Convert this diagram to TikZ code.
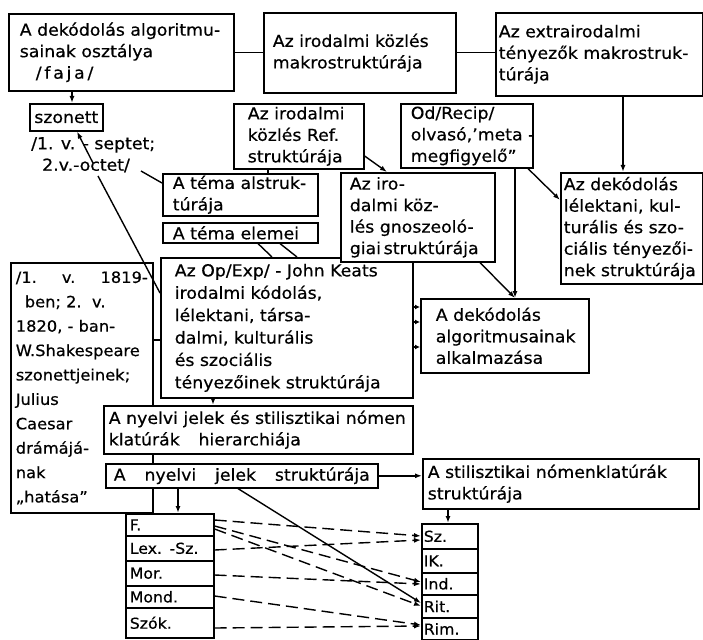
\documentclass[tikz,border=0pt]{standalone}
\usepackage{fontspec}
\setmainfont{DejaVu Sans}[FakeStretch=1.05, FakeBold=0.5]
\usetikzlibrary{arrows.meta}
\newcommand\fmain{\fontsize{16.5}{21.5}\selectfont\hyphenpenalty=10000\exhyphenpenalty=10000}
\newcommand\fop{\fontsize{16.5}{22.4}\selectfont\hyphenpenalty=10000\exhyphenpenalty=10000}
\newcommand\fleft{\fontsize{15.5}{24.4}\selectfont\hyphenpenalty=10000\exhyphenpenalty=10000}
\newcommand\fsmall{\fontsize{15}{18}\selectfont}
\tikzset{
  bx/.style={draw, line width=1.6pt, fill=white, anchor=north west, align=left, inner ysep=0pt, font=\fmain},
  ln/.style={line width=1.4pt},
  arr/.style={line width=1.4pt, -{Latex[length=7pt,width=5pt]}},
  sarr/.style={line width=1.4pt, -{Latex[length=5pt,width=5pt]}},
  dsh/.style={arr, dash pattern=on 12pt off 6pt},
}
\begin{document}
\begin{tikzpicture}[x=1pt,y=-1pt]
\useasboundingbox (0,0) rectangle (703,639);

% big left box
\node[bx, font=\fleft, inner xsep=5pt, text width=132pt, minimum height=250pt] (left) at (10,262)
  {/1.\hfill v.\hfill 1819-\\\hspace*{9pt}ben;\ 2.\ \ v.\\1820, - ban-\\\mbox{W.Shakespeare}\\szonettjeinek;\\Julius\\Caesar\\drámájá-\\nak\\„hatása”};

% top row
\node[bx, inner xsep=11pt, text width=203pt, minimum height=77pt] (b1) at (8,13)
  {A dekódolás algoritmu-\\sainak osztálya\\\hspace*{16pt}/\,f\,a\,j\,a\,/};
\node[bx, inner xsep=9pt, text width=174pt, minimum height=80pt] (b2) at (263,12)
  {Az irodalmi közlés\\makrostruktúrája};
\node[bx, inner xsep=3pt, text width=201pt, minimum height=83pt] (b3) at (495,12)
  {Az extrairodalmi\\\mbox{tényezők makrostruk-}\\túrája};

% second row
\node[bx, align=center, inner xsep=0pt, text width=73pt, minimum height=27pt] (szon) at (29,103) {szonett};
\node[anchor=north west, inner sep=0pt, align=left, font=\fmain] (sztxt) at (31,137)
  {/1. v. - septet;\\\hspace*{11pt}2.v.-octet/};
\node[bx, inner xsep=14pt, text width=102pt, minimum height=65pt] (ref) at (233,103)
  {Az irodalmi\\közlés Ref.\\struktúrája};
\node[bx, inner xsep=10pt, text width=112pt, minimum height=64pt] (od) at (400,103)
  {Od/Recip/\\\mbox{olvasó,’meta -}\\megfigyelő”};

\node[bx, inner xsep=10pt, text width=135pt, minimum height=42pt] (tal) at (162,173)
  {A téma alstruk-\\túrája};
\node[bx, inner xsep=10pt, text width=135pt, minimum height=20pt] (tel) at (162,222)
  {A téma elemei};

\node[bx, font=\fop, inner xsep=14pt, text width=224pt, minimum height=140pt] (op) at (160,257)
  {Az Op/Exp/ - John Keats\\irodalmi kódolás,\\lélektani, társa-\\dalmi, kulturális\\és szociális\\tényezőinek struktúrája};
\node[bx, inner xsep=9pt, text width=136pt, minimum height=89pt] (gn) at (340,172)
  {Az iro-\\dalmi köz-\\lés gnoszeoló-\\\mbox{giai\,struktúrája}};
\node[bx, inner xsep=3pt, text width=136pt, minimum height=111pt] (lel) at (560,172)
  {Az dekódolás\\lélektani, kul-\\turális és szo-\\\mbox{ciális tényezői-}\\nek struktúrája};
\node[bx, inner xsep=15pt, text width=138pt, minimum height=74pt] (alk) at (420,298)
  {A dekódolás\\algoritmusainak\\alkalmazása};

\node[bx, inner xsep=5pt, text width=299pt, minimum height=48pt] (hier) at (103,405)
  {\mbox{A nyelvi jelek és stilisztikai nómen}\\klatúrák\hspace{0.8em} hierarchiája};
\node[bx, inner xsep=8pt, text width=256pt, minimum height=24pt] (nyelv) at (105,463)
  {A\hfill nyelvi\hfill jelek\hfill struktúrája};
\node[bx, inner xsep=5pt, text width=266pt, minimum height=50pt] (stil) at (422,458)
  {A stilisztikai nómenklatúrák\\struktúrája};

% left list
\node[bx, font=\fsmall, inner xsep=4pt, text width=80pt, minimum height=22pt] (F) at (125,513) {F.};
\node[bx, font=\fsmall, inner xsep=4pt, text width=80pt, minimum height=25pt] (Lex) at (125,535) {Lex. -Sz.};
\node[bx, font=\fsmall, inner xsep=4pt, text width=80pt, minimum height=25pt] (Mor) at (125,560) {Mor.};
\node[bx, font=\fsmall, inner xsep=4pt, text width=80pt, minimum height=22pt] (Mond) at (125,585) {Mond.};
\node[bx, font=\fsmall, inner xsep=4pt, text width=80pt, minimum height=30pt] (Szok) at (125,607) {Szók.};

% right list
\node[bx, font=\fsmall, inner xsep=2pt, text width=52pt, minimum height=25pt] (Sz) at (421,523) {Sz.};
\node[bx, font=\fsmall, inner xsep=2pt, text width=52pt, minimum height=24pt] (IK) at (421,548) {IK.};
\node[bx, font=\fsmall, inner xsep=2pt, text width=52pt, minimum height=22pt] (Ind) at (421,572) {Ind.};
\node[bx, font=\fsmall, inner xsep=2pt, text width=52pt, minimum height=23pt] (Rit) at (421,594) {Rit.};
\node[bx, font=\fsmall, inner xsep=2pt, text width=52pt, minimum height=22pt] (Rim) at (421,617) {Rim.};

% connectors
\draw[ln] (b1.east) -- (b1.east -| b2.west);
\draw[ln] (b2.east) -- (b2.east -| b3.west);
\draw[arr] (623,0 |- b3.south) -- (623,0 |- lel.north);
\draw[arr] (72,0 |- b1.south) -- (72,0 |- szon.north);

\coordinate (oc1) at (93,163);
\coordinate (oc2) at (98,176);
\coordinate (oc3) at (141,171);
\draw[arr] (oc1) -- (77,0 |- szon.south);
\draw[ln] (oc2) -- (op.west |- 0,293);
\draw[ln] (oc3) -- (tal.west |- 0,183);

\draw[ln] (268,0 |- ref.south) -- (268,0 |- tal.north);
\draw[arr] (ref.east |- 0,156) -- (387,0 |- gn.north);
\draw[arr] (528,0 |- od.south) -- (lel.west |- 0,200);
\draw[arr] (515,0 |- od.south) -- (515,0 |- alk.north);
\draw[arr] (480,0 |- gn.south) -- (515,0 |- alk.north);
\draw[ln] (left.east |- 0,340) -- (op.west |- 0,340);
\draw[ln] (258,0 |- tel.south) -- (272,0 |- op.north);
\draw[ln] (280,0 |- tel.south) -- (297,0 |- op.north);
\draw[arr] (213,0 |- op.south) -- (213,0 |- hier.north);
\foreach \yy in {307,322,347} \draw[sarr] (op.east |- 0,\yy) -- (alk.west |- 0,\yy);

\draw[arr] (nyelv.east) -- (nyelv.east -| stil.west);
\draw[arr] (178,0 |- nyelv.south) -- (178,0 |- F.north);
\draw[arr] (238,0 |- nyelv.south) -- (Rit.west |- 0,603);
\draw[arr] (448,0 |- stil.south) -- (448,0 |- Sz.north);

\draw[dsh] (F.east |- 0,520) -- (Sz.west |- 0,536);
\draw[dsh] (Lex.east |- 0,550) -- (Sz.west |- 0,540);
\draw[dsh] (F.east |- 0,526) -- (Ind.west |- 0,582);
\draw[dsh] (F.east |- 0,529) -- (Rit.west |- 0,606);
\draw[dsh] (Mor.east |- 0,575) -- (Ind.west |- 0,584);
\draw[dsh] (Mond.east |- 0,596) -- (Rim.west |- 0,625);
\draw[dsh] (Szok.east |- 0,628) -- (Rim.west |- 0,626);
\end{tikzpicture}
\end{document}
